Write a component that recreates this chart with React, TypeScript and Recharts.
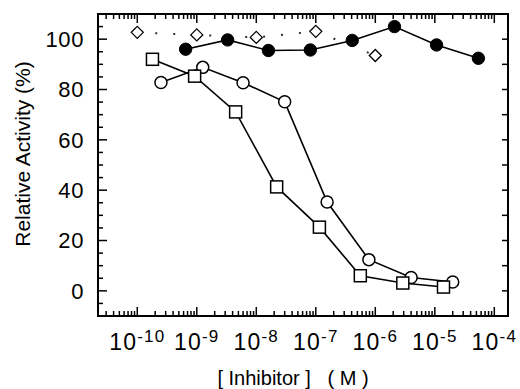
import { LineChart, Line, XAxis, YAxis, ReferenceArea } from 'recharts'

// concentrations in M, activity in %
const diamondX = [1e-10, 1e-9, 1e-8, 1e-7, 1e-6]
const diamondY = [102.7, 101.7, 100.7, 103.1, 93.5]
const filledX = [6.5e-10, 3.3e-9, 1.6e-8, 8.1e-8, 4.1e-7, 2.1e-6, 1.07e-5, 5.4e-5]
const filledY = [96, 99.7, 95.5, 95.7, 99.5, 105, 97.7, 92.4]
const openX = [2.5e-10, 1.26e-9, 6e-9, 3e-8, 1.55e-7, 7.8e-7, 4e-6, 2e-5]
const openY = [82.8, 88.8, 82.7, 75.1, 35.3, 12.4, 5.3, 3.5]
const squareX = [1.8e-10, 9.2e-10, 4.5e-9, 2.2e-8, 1.15e-7, 5.6e-7, 2.9e-6, 1.4e-5]
const squareY = [92, 85.3, 71.1, 41.3, 25.3, 6, 3.1, 1.5]

const X_EXPONENTS = [-10, -9, -8, -7, -6, -5, -4]
const Y_LABELS = [0, 20, 40, 60, 80, 100]

const W = 520
const H = 389
const M = { top: 14, right: 12, left: 0, bottom: 0 }
const Y_AXIS_W = 98
const X_AXIS_H = 73
const PLOT_W = W - M.left - M.right - Y_AXIS_W
const PLOT_H = H - M.top - M.bottom - X_AXIS_H
const XMIN = Math.pow(10, -10.66)
const XMAX = Math.pow(10, -3.77)
const FONT = '"Liberation Sans", Arial, Helvetica, sans-serif'

const zip = (xs: number[], ys: number[]) => xs.map((x, i) => ({ x, y: ys[i] }))

// log ticks: majors plus 2..9 minors inside the domain
const xTicks: number[] = []
for (let n = -11; n <= -4; n++) {
  for (let k = 1; k <= 9; k++) {
    const v = k * Math.pow(10, n)
    if (v >= XMIN && v <= XMAX) xTicks.push(v)
  }
}
const yTicks: number[] = []
for (let v = -10; v <= 110; v += 5) yTicks.push(v)

function XTick({ x, y, payload }: any) {
  const lg = Math.log10(payload.value)
  const major = Math.abs(lg - Math.round(lg)) < 1e-6
  const len = major ? 9 : 5
  const exp = Math.round(lg)
  return (
    <g>
      <line x1={x} y1={y} x2={x} y2={y - len} stroke="#000" strokeWidth={1.5} />
      <line x1={x} y1={y - PLOT_H} x2={x} y2={y - PLOT_H + len} stroke="#000" strokeWidth={1.5} />
      {major && X_EXPONENTS.includes(exp) && (
        <text x={x} y={y + 34} textAnchor="middle" fontSize={23} fontFamily={FONT} fill="#000" letterSpacing={1.2}>
          10<tspan dy={-8} fontSize={17}>{exp}</tspan>
        </text>
      )}
    </g>
  )
}

function YTick({ x, y, payload }: any) {
  const v = payload.value
  const major = v % 20 === 0
  return (
    <g>
      <line x1={x} y1={y} x2={x + (major ? 9 : 5)} y2={y} stroke="#000" strokeWidth={1.5} />
      {v % 10 === 0 && (
        <line x1={x + PLOT_W} y1={y} x2={x + PLOT_W - 6} y2={y} stroke="#000" strokeWidth={1.5} />
      )}
      {Y_LABELS.includes(v) && (
        <text x={x - 14} y={y} dy="0.36em" textAnchor="end" fontSize={22} fontFamily={FONT} fill="#000" letterSpacing={0.6}>
          {v}
        </text>
      )}
    </g>
  )
}

const YTitle = () => (
  <text x={0} y={0} transform="translate(22,154) rotate(-90)" textAnchor="middle" dy="0.36em"
    fontSize={21} fontFamily={FONT} fill="#000">
    Relative Activity (%)
  </text>
)

const XTitle = () => (
  <text x={293} y={385} textAnchor="middle" fontSize={20} fontFamily={FONT} fill="#000" style={{ whiteSpace: 'pre' }}>
    {'[ Inhibitor ]   ( M )'}
  </text>
)

const filledDot = (p: any) => <circle key={p.index} cx={p.cx} cy={p.cy} r={6.2} fill="#000" stroke="#000" />
const openDot = (p: any) => <circle key={p.index} cx={p.cx} cy={p.cy} r={6} fill="#fff" stroke="#000" strokeWidth={1.5} />
const squareDot = (p: any) => (
  <rect key={p.index} x={p.cx - 6} y={p.cy - 6} width={12} height={12} fill="#fff" stroke="#000" strokeWidth={1.5} />
)
const diamondDot = (p: any) => (
  <polygon key={p.index} points={`${p.cx},${p.cy - 6} ${p.cx + 6},${p.cy} ${p.cx},${p.cy + 6} ${p.cx - 6},${p.cy}`}
    fill="#fff" stroke="#000" strokeWidth={1.3} />
)

export default function App() {
  return (
    <div style={{ position: 'absolute', left: 0, top: 0, background: '#fff' }}>
      <LineChart width={W} height={H} margin={M}>
        <XAxis dataKey="x" type="number" scale="log" domain={[XMIN, XMAX]} allowDataOverflow
          ticks={xTicks} interval={0} tick={<XTick />} tickSize={0} tickMargin={0}
          tickLine={false} axisLine={false} height={X_AXIS_H} label={<XTitle />} />
        <YAxis type="number" domain={[-10, 110]} allowDataOverflow ticks={yTicks} interval={0}
          tick={<YTick />} tickSize={0} tickMargin={0} tickLine={false} axisLine={false}
          width={Y_AXIS_W} label={<YTitle />} />
        <ReferenceArea x1={XMIN} x2={XMAX} y1={-10} y2={110} fill="none" fillOpacity={0}
          stroke="#000" strokeWidth={2} strokeOpacity={1} />
        <Line data={zip(filledX, filledY)} dataKey="y" type="linear" stroke="#000" strokeWidth={1.6}
          dot={filledDot} activeDot={false} isAnimationActive={false} />
        <Line data={zip(diamondX, diamondY)} dataKey="y" type="linear" stroke="#333" strokeWidth={2}
          strokeDasharray="2 16" dot={diamondDot} activeDot={false} isAnimationActive={false} />
        <Line data={zip(openX, openY)} dataKey="y" type="linear" stroke="#000" strokeWidth={1.6}
          dot={openDot} activeDot={false} isAnimationActive={false} />
        <Line data={zip(squareX, squareY)} dataKey="y" type="linear" stroke="#000" strokeWidth={1.6}
          dot={squareDot} activeDot={false} isAnimationActive={false} />
      </LineChart>
    </div>
  )
}
